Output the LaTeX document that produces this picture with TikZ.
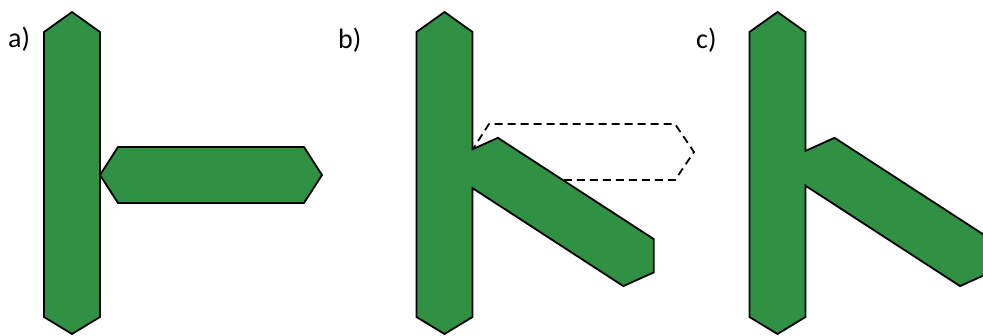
\documentclass[tikz,border=0pt]{standalone}
\usepackage{fontspec}
\setmainfont{Carlito}
\definecolor{barGreen}{RGB}{48,145,69}
\begin{document}
\begin{tikzpicture}[x=1pt,y=-1pt,
  bar/.style={fill=barGreen,draw=black,line width=1.8pt,line join=miter},
  ghost/.style={draw=black,line width=1.8pt,dash pattern=on 8pt off 5pt},
  panellabel/.style={anchor=base west,inner sep=0pt,font=\fontsize{28}{34}\selectfont}]
\useasboundingbox (0,0) rectangle (983,335);
\clip (0,0) rectangle (983,335);
% labels
\node[panellabel] (la) at (8,47) {a)};
\node[panellabel] (lb) at (338,48) {b)};
\node[panellabel] (lc) at (696,48) {c)};
% panel a
\draw[bar] (72,12) -- (100,32) -- (100,317) -- (72,334) -- (44,317) -- (44,32) -- cycle;
\draw[bar] (100,175) -- (118,147) -- (304,147) -- (322,175) -- (304,203) -- (118,203) -- cycle;
% panel b: original position (dashed)
\draw[ghost] (471,152) -- (489,124) -- (675,124) -- (694,152) -- (675,180) -- (489,180) -- cycle;
% panel b: rotated arm joined with the bar
\draw[bar] (444.5,12) -- (472.5,32) -- (472.5,149.25) -- (497.85,137.82) -- (653.84,239.12)
  -- (653.69,272.41) -- (623.34,286.09) -- (472.5,188.13) -- (472.5,317) -- (444.5,334)
  -- (416.5,317) -- (416.5,32) -- cycle;
% panel c
\draw[bar] (777.5,12) -- (805.5,32) -- (805.5,150.91) -- (834.55,137.82) -- (990.54,239.12)
  -- (990.39,272.41) -- (960.04,286.09) -- (805.5,185.73) -- (805.5,317) -- (777.5,334)
  -- (749.5,317) -- (749.5,32) -- cycle;
\end{tikzpicture}
\end{document}
